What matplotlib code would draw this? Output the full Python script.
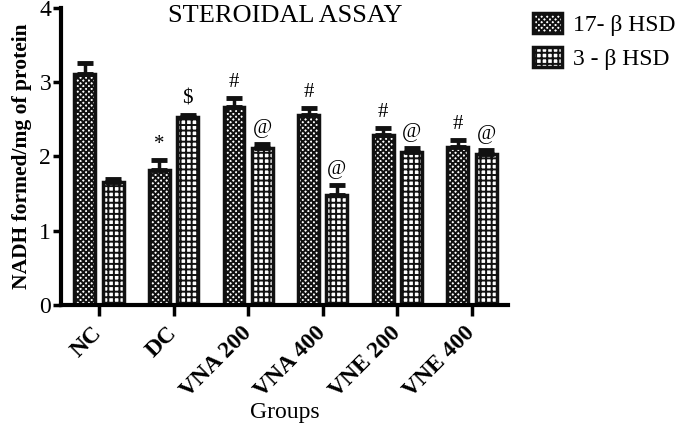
import numpy as np
import matplotlib.pyplot as plt
from matplotlib.transforms import ScaledTranslation

groups = ['NC', 'DC', 'VNA 200', 'VNA 400', 'VNE 200', 'VNE 400']
hsd17 = [3.11, 1.82, 2.66, 2.56, 2.29, 2.12]
hsd17_err = [0.15, 0.13, 0.12, 0.09, 0.09, 0.10]
hsd3 = [1.65, 2.53, 2.11, 1.48, 2.06, 2.03]
hsd3_err = [0.05, 0.03, 0.05, 0.13, 0.05, 0.05]
marks17 = ['', '*', '#', '#', '#', '#']
marks3 = ['', '$', '@', '@', '@', '@']

plt.rcParams['font.family'] = ['Liberation Serif', 'DejaVu Serif']
plt.rcParams['hatch.linewidth'] = 1.4

fig = plt.figure(figsize=(6.77, 4.33), dpi=100)
ax = fig.add_axes([0.090, 0.296, 0.660, 0.686])

x = np.arange(len(groups))
w = 0.28
off = 0.19

ax.bar(x - off, hsd17, w, facecolor='white', edgecolor='#111111',
       linewidth=2.5, hatch='xxxxxx', label='17- \u03b2 HSD')
ax.bar(x + off, hsd3, w, facecolor='white', edgecolor='#111111',
       linewidth=2.5, hatch='+++', label='3 - \u03b2 HSD')

ax.errorbar(x - off, hsd17, yerr=[np.zeros(6), hsd17_err], fmt='none',
            ecolor='#111111', elinewidth=2.5, capsize=6, capthick=3.5)
ax.errorbar(x + off, hsd3, yerr=[np.zeros(6), hsd3_err], fmt='none',
            ecolor='#111111', elinewidth=2.5, capsize=6, capthick=3.5)

for i in range(len(groups)):
    if marks17[i]:
        ax.text(x[i] - off, hsd17[i] + hsd17_err[i] + 0.08, marks17[i],
                ha='center', va='bottom', fontsize=15)
    if marks3[i]:
        ax.text(x[i] + off, hsd3[i] + hsd3_err[i] + 0.08, marks3[i],
                ha='center', va='bottom', fontsize=15)

ax.set_xlim(-0.51, 5.48)
ax.set_ylim(0, 4)
ax.set_yticks([0, 1, 2, 3, 4])
ax.set_xticks(x)
ax.set_xticklabels(groups, rotation=45, ha='right', va='center',
                   rotation_mode='anchor', fontweight='bold', fontsize=17)
# nudge the rotated labels a little to the right, as in the original
shift = ScaledTranslation(5 / 100, 1 / 100, fig.dpi_scale_trans)
for lab in ax.get_xticklabels():
    lab.set_transform(lab.get_transform() + shift)
ax.tick_params(axis='y', labelsize=17, width=2.5, length=6, direction='out',
               pad=1)
ax.tick_params(axis='x', width=2.5, length=8, direction='out', pad=10)
ax.spines['top'].set_visible(False)
ax.spines['right'].set_visible(False)
ax.spines['left'].set_linewidth(3)
ax.spines['bottom'].set_linewidth(3)

ax.set_ylabel('NADH formed/mg of protein', fontweight='bold', fontsize=15.5,
              labelpad=5)
ax.set_xlabel('Groups', fontsize=17, labelpad=0)
fig.text(0.421, 1 - 16 / 433, 'STEROIDAL ASSAY', fontsize=19,
         ha='center', va='center')

ax.legend(loc='upper left', bbox_to_anchor=(533 / 677, 1 - 13 / 433),
          bbox_transform=fig.transFigure, frameon=False, borderpad=0,
          borderaxespad=0, fontsize=17, handlelength=1.23, handleheight=0.9,
          labelspacing=0.48, handletextpad=0.47)

fig.savefig('out.png', dpi=100)
